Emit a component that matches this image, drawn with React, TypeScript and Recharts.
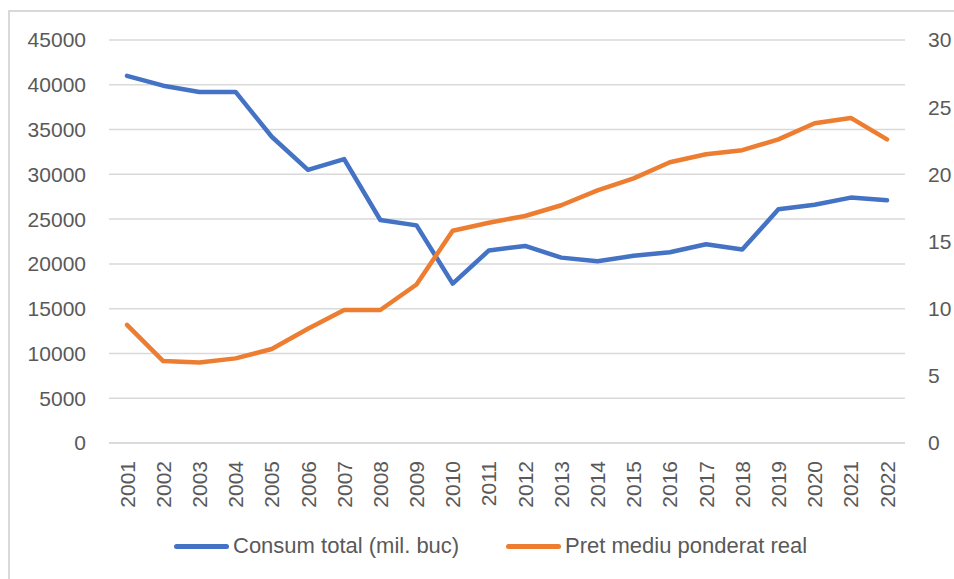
import React from "react";
import { LineChart, Line, CartesianGrid, XAxis, YAxis, Legend } from "recharts";

const years = [
  "2001", "2002", "2003", "2004", "2005", "2006", "2007", "2008", "2009", "2010", "2011",
  "2012", "2013", "2014", "2015", "2016", "2017", "2018", "2019", "2020", "2021", "2022",
];

const consumTotal = [
  41000, 39900, 39200, 39200, 34200, 30500, 31700, 24900, 24300, 17800, 21500,
  22000, 20700, 20300, 20900, 21300, 22200, 21600, 26100, 26600, 27400, 27100,
];

const pretMediu = [
  8.8, 6.1, 6.0, 6.3, 7.0, 8.5, 9.9, 9.9, 11.8, 15.8, 16.4,
  16.9, 17.7, 18.8, 19.7, 20.9, 21.5, 21.8, 22.6, 23.8, 24.2, 22.6,
];

const leftTicks = [0, 5000, 10000, 15000, 20000, 25000, 30000, 35000, 40000, 45000];
const rightTicks = [0, 5, 10, 15, 20, 25, 30];

const BLUE = "#4472C4";
const ORANGE = "#ED7D31";
const TEXT = "#595959";
const FONT = "'Liberation Sans', Arial, sans-serif";

const chartData = years.map((year, i) => ({
  year,
  consum: consumTotal[i],
  pret: pretMediu[i],
}));

const YearTick = (props: any) => {
  const { x, y, payload } = props;
  return (
    <g transform={`translate(${x},${y})`}>
      <text transform="rotate(-90)" textAnchor="end" dy="0.36em" fill={TEXT} fontSize={21} fontFamily={FONT}>
        {payload.value}
      </text>
    </g>
  );
};

const LegendContent = () => (
  <div style={{ position: "relative", width: 954, height: 56, fontFamily: FONT, fontSize: 22, color: TEXT }}>
    <div style={{ position: "absolute", left: 174, top: 31, width: 55, height: 5, borderRadius: 3, background: BLUE }} />
    <span style={{ position: "absolute", left: 233, top: 20, whiteSpace: "nowrap" }}>Consum total (mil. buc)</span>
    <div style={{ position: "absolute", left: 506, top: 31, width: 55, height: 5, borderRadius: 3, background: ORANGE }} />
    <span style={{ position: "absolute", left: 565, top: 20, whiteSpace: "nowrap" }}>Pret mediu ponderat real</span>
  </div>
);

export default function App() {
  return (
    <div style={{ position: "absolute", left: 0, top: 0, width: 954, height: 579, background: "#fff" }}>
      <div
        style={{
          position: "absolute",
          left: 8,
          top: 10,
          width: 960,
          height: 600,
          borderLeft: "2px solid #d9d9d9",
          borderTop: "2px solid #d9d9d9",
          boxSizing: "border-box",
        }}
      />
      <LineChart
        width={954}
        height={579}
        data={chartData}
        margin={{ top: 40, right: 0, bottom: 10, left: 0 }}
        style={{ position: "absolute", left: 0, top: 0 }}
      >
        <CartesianGrid yAxisId="left" vertical={false} stroke="#d9d9d9" strokeWidth={1.5} />
        <XAxis
          dataKey="year"
          height={70}
          interval={0}
          padding={{ left: 18, right: 18 }}
          axisLine={{ stroke: "#d9d9d9", strokeWidth: 1.5 }}
          tickLine={false}
          tickSize={0}
          tickMargin={18}
          tick={<YearTick />}
        />
        <YAxis
          yAxisId="left"
          orientation="left"
          width={109}
          domain={[0, 45000]}
          ticks={leftTicks}
          interval={0}
          axisLine={false}
          tickLine={false}
          tickSize={0}
          tickMargin={23}
          tick={{ fill: TEXT, fontSize: 21, fontFamily: FONT }}
        />
        <YAxis
          yAxisId="right"
          orientation="right"
          width={49}
          domain={[0, 30]}
          ticks={rightTicks}
          interval={0}
          axisLine={false}
          tickLine={false}
          tickSize={0}
          tickMargin={23}
          tick={{ fill: TEXT, fontSize: 21, fontFamily: FONT, textAnchor: "start" }}
        />
        <Legend verticalAlign="bottom" height={56} content={<LegendContent />} />
        <Line
          yAxisId="left"
          type="linear"
          dataKey="consum"
          name="Consum total (mil. buc)"
          stroke={BLUE}
          strokeWidth={4.5}
          strokeLinejoin="round"
          strokeLinecap="round"
          dot={false}
          isAnimationActive={false}
        />
        <Line
          yAxisId="right"
          type="linear"
          dataKey="pret"
          name="Pret mediu ponderat real"
          stroke={ORANGE}
          strokeWidth={4.5}
          strokeLinejoin="round"
          strokeLinecap="round"
          dot={false}
          isAnimationActive={false}
        />
      </LineChart>
    </div>
  );
}
